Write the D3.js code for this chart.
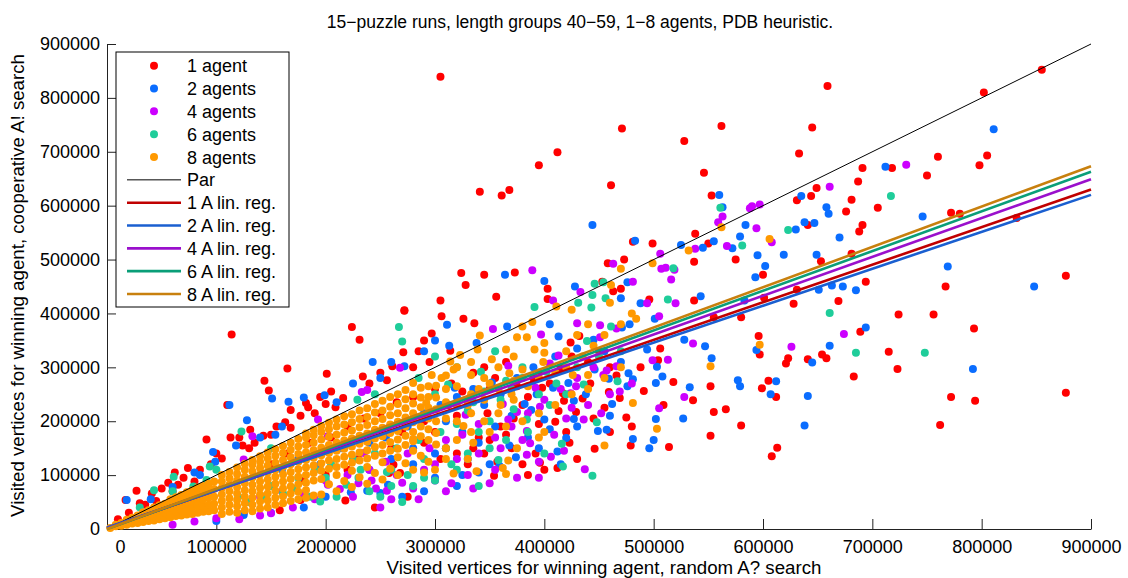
<!DOCTYPE html>
<html>
<head>
<meta charset="utf-8">
<script src="https://cdn.jsdelivr.net/npm/d3@7"></script>
<style>
  body { margin: 0; background: #fff; }
  svg text { font-family: "Liberation Sans", Arial, Helvetica, sans-serif; fill: #000; }
</style>
</head>
<body>
<div class="scatter"></div>
<script>
// All values in thousands of visited vertices: [random A*, cooperative A*]
const agents1 = [
  [305,839],[855,852],[802,810],[760,691],[805,693],[798,675],[750,656],[659,822],[471,743],[562,748],[645,745],[528,720],
  [412,699],[395,675],[633,697],[546,661],[461,638],[341,626],[361,619],[368,629],[691,670],[687,645],[718,670],[553,619],
  [649,633],[644,618],[631,610],[681,611],[676,589],[705,596],[691,564],[688,552],[641,564],[538,548],[499,530],[481,533],
  [550,530],[575,500],[600,472],[537,496],[473,500],[458,493],[653,497],[681,511],[694,459],[628,418],[669,423],[631,444],
  [601,429],[580,393],[555,393],[537,424],[496,426],[463,441],[470,446],[453,459],[403,446],[403,427],[324,475],[345,472],
  [373,476],[328,453],[356,431],[305,424],[272,406],[306,395],[326,390],[336,382],[297,363],[314,331],[596,358],[689,366],
  [715,329],[724,398],[723,297],[597,324],[623,317],[621,307],[641,315],[654,324],[658,317],[683,283],[605,275],[599,261],
  [612,245],[552,265],[536,239],[566,222],[555,217],[580,192],[552,173],[613,151],[608,135],[514,152],[491,256],[509,230],
  [475,207],[479,155],[518,273],[504,313],[506,335],[459,254],[469,243],[446,149],[429,217],[417,252],[410,199],[413,219],
  [435,242],[396,123],[412,113],[354,99],[432,358],[424,346],[772,587],[780,585],[832,577],[767,450],[756,398],[793,372],
  [877,470],[877,253],[794,238],[772,245],[762,193],
  [114,361],[165,298],[144,275],[148,257],[201,288],[224,375],[231,351],[272,405],[234,283],[216,243],[209,226],[200,232],
  [182,234],[184,226],[168,221],[177,210],[163,198],[168,188],[110,230],[113,170],[121,170],[124,155],[131,184],[130,150],
  [143,173],[91,166],[105,131],[62,105],[74,113],[27,71],[56,86],[41,66],[17,54],[30,48],[218,53],[158,35],[125,29],
  [258,104],[268,104],[262,119],[271,328],[256,276],[261,302],[177,54],[50,75],[70,95],[85,110],[95,120],[80,88],[100,140],
  [60,70],[45,52],[20,30],[10,18],[35,45],[65,82],[135,160],[150,175],[155,190],[190,215],[195,245],[205,255],[240,270],
  [250,290],[280,300],[285,330],[290,350],[295,310],[245,40],[275,60],[290,200],[300,180],[310,150],[320,210],[330,240],
  [340,170],[350,260],[360,190],[370,150],[380,230],[390,280],[380,120],[345,140],[330,120],
  [150,120],[165,140],[185,160],[205,170],[220,190],[235,205],[250,215],[265,235],[280,245],[300,260],[315,270],[325,255],
  [335,290],[345,300],[355,280],[365,310],[375,265],[385,245],[395,290],[405,270],[415,300],[425,320],[440,310],[450,330],
  [460,300],[290,160],[305,130],[320,140],[335,150],[350,165],[365,175],[395,195],[420,180],[445,205],[455,225],[385,100],
  [400,110],[430,130],[460,180],[480,190],[200,100],[230,130],[260,150],[270,180],[180,90],[220,110],
  [312,230],[348,215],[372,205],[398,262],[418,238],[442,270],[466,285],[488,300],[357,125],[392,140],[423,160]
]
const agents2 = [
  [811,742],[746,580],[769,487],[444,564],[483,535],[560,620],[563,597],[712,672],[635,618],[658,597],[660,585],[638,569],
  [647,568],[630,556],[584,564],[579,543],[555,534],[545,522],[525,527],[572,521],[670,541],[619,509],[595,508],[649,509],
  [602,488],[593,467],[651,444],[663,452],[673,450],[685,443],[694,374],[543,432],[583,424],[547,339],[553,317],[528,351],
  [661,340],[645,309],[594,332],[577,276],[579,265],[612,274],[607,250],[641,247],[638,192],[533,263],[527,205],[502,204],
  [500,165],[496,150],[481,167],[508,283],[502,271],[476,265],[481,278],[477,289],[459,279],[503,301],[494,333],[471,374],
  [478,380],[488,419],[501,390],[470,428],[476,458],[428,450],[400,460],[364,472],[405,380],[413,357],[445,351],[446,296],
  [422,271],[427,238],[427,204],[400,203],[388,221],[393,250],[449,182],[457,184],[374,133],[359,117],[420,169],[412,144],
  [366,376],[311,379],[313,340],[338,345],[848,450],[792,297],
  [112,230],[128,202],[151,242],[166,236],[180,244],[199,248],[243,310],[250,280],[272,302],[154,175],[118,155],[97,143],
  [99,125],[80,105],[18,54],[125,26],[223,68],[238,71],[250,67],[257,82],[200,60],[180,40],[150,30],[100,15],[270,60],
  [290,70],[300,95],[320,80],[340,105],[280,120],[40,55],[60,78],[85,100],[140,170],[160,190],[210,235],[225,270],
  [290,330],[300,350],[260,310],
  [160,110],[175,130],[195,120],[215,150],[240,160],[255,170],[275,190],[290,215],[305,230],[320,245],[335,260],[345,230],
  [360,250],[375,280],[390,300],[410,320],[430,335],[455,330],[470,310],[310,200],[325,180],[340,160],[355,190],[370,210],
  [385,170],[405,185],[430,190],[460,210],[240,110],[260,130],[280,150],[300,140],[330,130],[350,120],[395,150],
  [318,262],[352,272],[382,232],[408,262],[438,250],[462,232],[368,155],[415,120],[325,100]
]
const agents4 = [
  [731,676],[661,635],[590,599],[597,602],[588,595],[563,580],[559,569],[594,558],[608,532],[567,525],[538,520],[506,511],
  [507,483],[511,485],[519,481],[516,463],[463,492],[481,459],[433,440],[389,480],[408,424],[494,419],[520,419],[505,395],
  [451,378],[466,372],[451,356],[430,382],[397,361],[353,371],[536,344],[674,362],[626,338],[499,313],[513,314],[466,302],
  [457,294],[454,286],[528,245],[469,255],[424,252],[429,265],[505,224],[437,111],[406,134],[384,138],[436,203],[409,175],
  [384,182],[387,159],[367,203],[375,217],[396,227],[405,307],[413,322],[367,303],
  [133,172],[125,129],[193,203],[202,172],[233,254],[238,258],[268,299],[235,141],[242,90],[256,71],[246,75],[213,74],
  [202,82],[270,86],[150,29],[121,18],[170,40],[190,55],[225,60],[260,55],[280,75],[300,90],[310,70],[330,100],[350,85],
  [290,110],[100,20],[80,14],[60,8],[140,25],[230,85],[265,100],
  [140,60],[160,70],[180,65],[200,90],[220,100],[240,110],[255,125],[275,140],[295,150],[310,165],[325,175],[340,195],
  [355,170],[370,190],[385,215],[400,240],[415,260],[430,280],[445,300],[420,205],[440,230],[460,250],[480,270],[300,120],
  [320,130],[340,140],[360,150],[380,165],[250,40],[285,55],[315,85],[335,75],[355,110],[375,95],[395,95],
  [328,212],[362,232],[392,262],[425,225],[452,215],[395,125],[418,145]
]
const agents6 = [
  [717,618],[561,596],[623,555],[581,526],[518,484],[513,426],[661,401],[685,327],[446,455],[454,458],[456,428],[444,434],
  [443,411],[431,420],[391,412],[461,376],[439,349],[467,274],[448,198],[416,158],[417,116],[444,99],[411,270],[384,203],
  [748,327],
  [267,375],[270,348],[123,181],[229,240],[245,250],[143,60],[161,66],[186,60],[195,51],[219,82],[232,110],[256,106],
  [94,116],[91,91],[79,79],[61,97],[43,72],[300,90],[320,110],[280,80],[240,70],[210,60],[260,80],[290,130],[310,150],
  [340,180],[350,200],[330,220],[300,250],[285,280],[360,240],[370,260],[380,300],[355,330],[320,300],[300,320],[150,150],
  [100,110],[60,70],[30,40],[120,60],[170,75],[200,95],
  [130,50],[150,80],[175,95],[190,110],[205,120],[225,130],[245,140],[265,150],[285,165],[305,180],[320,195],[335,235],
  [345,255],[365,275],[380,280],[395,250],[405,230],[420,250],[430,300],[450,320],[470,330],[315,120],[330,140],[350,150],
  [365,165],[385,180],[400,140],[260,110],[275,100],[290,95],[230,95],[250,60],[270,50],[340,80],
  [312,268],[342,292],[372,222],[402,292],[436,268],[358,128]
]
const agents8 = [
  [606,538],[562,560],[532,517],[499,493],[470,483],[461,453],[425,407],[411,413],[484,390],[597,342],[552,302],[481,234],
  [503,186],[455,155],[395,170],[365,102],[341,359],[375,356],[384,356],[389,384],[380,376],[400,345],[400,327],[391,333],
  [399,310],[365,333],[352,315],[339,333],[323,323],[314,311],[297,286],[306,280],[317,296],[333,286],[368,289],[380,296],
  [440,286],[426,286],[280,271],[292,234],[326,191],[280,167],[317,103],[338,107],[362,113],[367,127],
  [320,200],[330,230],[340,260],[350,270],[360,230],[370,250],[385,265],[395,280],[410,290],[420,300],[435,320],[445,340],
  [455,360],[470,380],[480,400],[335,160],[350,180],[365,190],[380,200],[395,215],[410,230],[425,250],[440,260],[455,280],
  [470,300],[375,150],[400,180],[300,110],[310,130],[290,105],[330,130],[420,330],[430,360],[460,420],[440,380],
  [3,2],[8,5],[8,8],[13,6],[13,11],[18,8],[18,13],[18,17],[23,10],[23,16],[23,21],[28,11],[28,18],[28,25],
  [33,13],[33,20],[33,27],[33,31],[38,15],[38,22],[38,29],[38,35],[43,16],[43,24],[43,32],[43,40],
  [48,18],[48,27],[48,35],[48,44],[53,20],[53,29],[53,38],[53,47],[58,22],[58,31],[58,40],[58,49],[58,55],
  [63,24],[63,33],[63,43],[63,52],[63,59],[68,25],[68,35],[68,45],[68,55],[68,63],[73,27],[73,38],[73,48],[73,58],[73,68],
  [78,28],[78,40],[78,51],[78,62],[78,72],[83,30],[83,42],[83,53],[83,65],[83,77],[88,32],[88,43],[88,55],[88,68],[88,80],
  [93,33],[93,45],[93,58],[93,71],[93,84],[98,35],[98,47],[98,60],[98,74],[98,88],
  [105,28],[105,40],[105,52],[105,64],[105,76],[105,88],[105,100],[112,32],[112,45],[112,57],[112,70],[112,82],[112,94],[112,106],
  [119,30],[119,42],[119,54],[119,66],[119,78],[119,90],[119,102],[119,114],
  [126,35],[126,48],[126,60],[126,72],[126,85],[126,97],[126,110],[126,121],
  [133,33],[133,45],[133,58],[133,70],[133,82],[133,95],[133,107],[133,119],[133,128],
  [140,38],[140,51],[140,64],[140,76],[140,88],[140,101],[140,113],[140,125],[140,135],
  [147,40],[147,53],[147,66],[147,79],[147,92],[147,105],[147,118],[147,131],[147,142],
  [154,45],[154,58],[154,71],[154,84],[154,97],[154,110],[154,123],[154,136],[154,148],
  [161,48],[161,61],[161,75],[161,88],[161,101],[161,115],[161,128],[161,141],[161,154],
  [168,52],[168,66],[168,79],[168,93],[168,106],[168,120],[168,133],[168,147],[168,160],
  [175,55],[175,69],[175,83],[175,97],[175,111],[175,125],[175,139],[175,153],[175,167],
  [182,58],[182,72],[182,86],[182,100],[182,114],[182,128],[182,142],[182,156],[182,170],[182,177],
  [189,62],[189,90],[189,104],[189,118],[189,132],[189,146],[189,160],[189,174],[189,184],
  [196,64],[196,93],[196,108],[196,122],[196,137],[196,151],[196,166],[196,180],[196,191],
  [203,83],[203,112],[203,127],[203,141],[203,156],[203,171],[203,185],[203,197],
  [210,70],[210,100],[210,115],[210,130],[210,145],[210,160],[210,175],[210,190],[210,203],
  [217,89],[217,119],[217,134],[217,149],[217,164],[217,179],[217,194],[217,209],
  [224,78],[224,108],[224,123],[224,138],[224,153],[224,168],[224,183],[224,198],[224,213],
  [231,96],[231,127],[231,142],[231,158],[231,173],[231,189],[231,204],[231,220],
  [238,84],[238,115],[238,131],[238,146],[238,162],[238,177],[238,193],[238,208],[238,224],
  [245,104],[245,136],[245,152],[245,168],[245,184],[245,200],[245,216],[245,232],
  [252,92],[252,124],[252,140],[252,156],[252,172],[252,188],[252,204],[252,220],[252,238],
  [259,112],[259,145],[259,161],[259,178],[259,194],[259,211],[259,227],[259,245],
  [266,100],[266,133],[266,149],[266,166],[266,182],[266,199],[266,215],[266,232],[266,250],
  [273,122],[273,156],[273,173],[273,190],[273,207],[273,224],[273,241],[273,258],
  [280,110],[280,145],[280,163],[280,180],[280,198],[280,215],[280,233],[280,250],
  [287,136],[287,172],[287,190],[287,208],[287,226],[287,244],[287,262],
  [294,125],[294,165],[294,185],[294,205],[294,225],[294,245],[294,265],
  [301,157],[301,178],[301,200],[301,222],[301,244],[301,266],
  [310,150],[310,205],[310,235],[310,260],[310,285],[320,165],[320,230],[320,265],[320,300],
  [333,180],[333,215],[333,250],[333,310],[345,200],[345,240],[345,280],[358,215],[358,260],[358,300],
  [372,240],[372,275],[372,320]
]

// linear regression end points, y (thousands) at x = 0 and x = 900 thousand
const regY0 = [2, 3, 1, 0, 0]
const regY1 = [630, 620, 649, 663, 673]

const seriesNames = ['1 agent', '2 agents', '4 agents', '6 agents', '8 agents']
const regNames = ['1 A lin. reg.', '2 A lin. reg.', '4 A lin. reg.', '6 A lin. reg.', '8 A lin. reg.']
const xTicks = [0, 100000, 200000, 300000, 400000, 500000, 600000, 700000, 800000, 900000]
const yTicks = [0, 100000, 200000, 300000, 400000, 500000, 600000, 700000, 800000, 900000]

const allSeries = [agents1, agents2, agents4, agents6, agents8]
const dotColors = ['#ff0000', '#0a6dff', '#cc00ff', '#1fcd9a', '#ff9900']
const lineColors = ['#c00000', '#1a5fd0', '#9a10cc', '#0a9e78', '#c8800e']

const width = 1128
const height = 578
const margin = { top: 44, right: 37, bottom: 49, left: 107 }
const innerWidth = width - margin.left - margin.right
const innerHeight = height - margin.top - margin.bottom
const radius = 4

const root = d3.select('.scatter').append('svg')
  .attr('width', width)
  .attr('height', height)

const svg = root.append('g')
  .attr('transform', `translate(${margin.left},${margin.top})`)

const x = d3.scaleLinear().domain([0, 900000]).range([0, innerWidth])
const y = d3.scaleLinear().domain([0, 900000]).range([innerHeight, 0])

// axes (MATLAB style: only left and bottom, ticks pointing inwards)
const xAxis = svg.append('g')
  .attr('transform', `translate(0,${innerHeight})`)
  .call(d3.axisBottom(x).tickValues(xTicks).tickSize(-10).tickSizeOuter(0).tickPadding(11).tickFormat(d3.format('d')))
const yAxis = svg.append('g')
  .call(d3.axisLeft(y).tickValues(yTicks).tickSize(-9).tickSizeOuter(0).tickPadding(7).tickFormat(d3.format('d')))

;[xAxis, yAxis].forEach(a => {
  a.attr('font-family', null).attr('font-size', null)
  a.selectAll('path, line').attr('stroke', '#222')
  a.selectAll('text').style('font-size', '18px').attr('fill', '#000')
})
// the zero label sits right of the corner in the original
xAxis.selectAll('.tick text').filter(d => d === 0).attr('dx', 13)

// dots, drawn in legend order so 8 agents end up on top
allSeries.forEach((pts, i) => {
  svg.append('g').selectAll('circle')
    .data(pts)
    .join('circle')
    .attr('cx', d => x(d[0] * 1000))
    .attr('cy', d => y(d[1] * 1000))
    .attr('r', radius)
    .attr('fill', dotColors[i])
})

// par line
svg.append('line')
  .attr('x1', x(0)).attr('y1', y(0))
  .attr('x2', x(900000)).attr('y2', y(900000))
  .attr('stroke', '#000').attr('stroke-width', 1)

// regression lines
regY1.forEach((v, i) => {
  svg.append('line')
    .attr('x1', x(0)).attr('y1', y(regY0[i] * 1000))
    .attr('x2', x(900000)).attr('y2', y(v * 1000))
    .attr('stroke', lineColors[i]).attr('stroke-width', 2.6)
})

// legend
const legend = svg.append('g').attr('transform', `translate(${116 - margin.left},${52 - margin.top})`)
legend.append('rect')
  .attr('width', 173).attr('height', 255)
  .attr('fill', '#fff').attr('stroke', '#000').attr('stroke-width', 1)

const rowY = i => 13.7 + i * 22.83
const entries = seriesNames.map((n, i) => ({ type: 'dot', name: n, color: dotColors[i] }))
  .concat([{ type: 'line', name: 'Par', color: '#000', w: 1 }])
  .concat(regNames.map((n, i) => ({ type: 'line', name: n, color: lineColors[i], w: 2.6 })))

entries.forEach((e, i) => {
  const g = legend.append('g').attr('transform', `translate(0,${rowY(i)})`)
  if (e.type === 'dot') {
    g.append('circle').attr('cx', 38).attr('cy', 0).attr('r', radius).attr('fill', e.color)
  } else {
    g.append('line').attr('x1', 11).attr('x2', 65).attr('y1', 0).attr('y2', 0)
      .attr('stroke', e.color).attr('stroke-width', e.w)
  }
  g.append('text').attr('x', 71).attr('y', 6.5).style('font-size', '18px').text(e.name)
})

// title and axis labels
root.append('text')
  .attr('x', 580).attr('y', 27.5)
  .attr('text-anchor', 'middle')
  .style('font-size', '17.5px')
  .text('15\u2212puzzle runs, length groups 40\u221259, 1\u22128 agents, PDB heuristic.')

root.append('text')
  .attr('x', 604).attr('y', 573.5)
  .attr('text-anchor', 'middle')
  .style('font-size', '18.7px')
  .text('Visited vertices for winning agent, random A? search')

root.append('text')
  .attr('transform', 'translate(24,285.5) rotate(-90)')
  .attr('text-anchor', 'middle')
  .style('font-size', '18.7px')
  .text('Visited vertices for winning agent, cooperative A! search')
</script>
</body>
</html>
